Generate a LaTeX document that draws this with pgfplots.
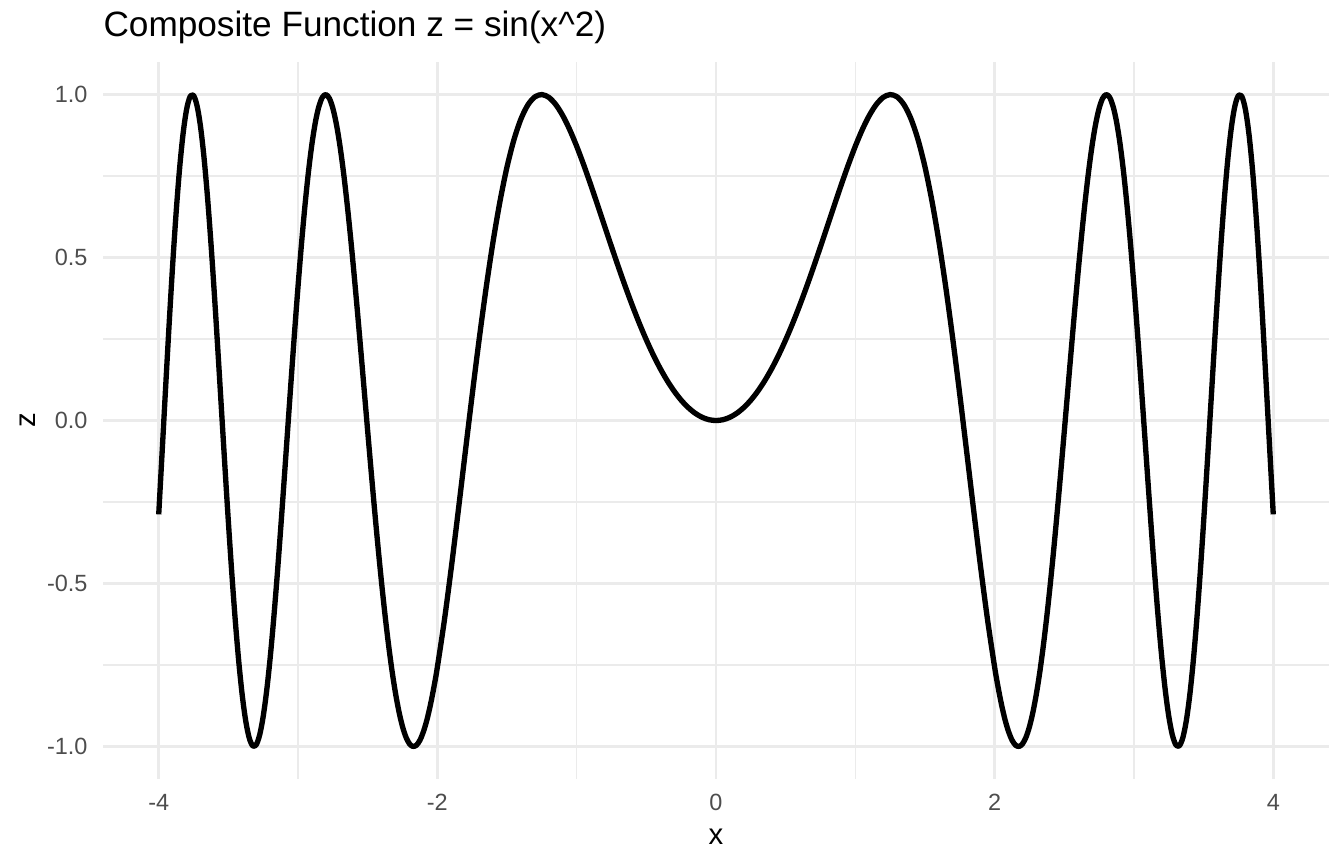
\documentclass[border=0pt]{standalone}
\usepackage{fontspec}
\setmainfont{Liberation Sans}
\usepackage{pgfplots}
\usepackage{pgfplotstable}
\pgfplotsset{compat=1.18}
\definecolor{gridmaj}{HTML}{EBEBEB}
\definecolor{ticktxt}{HTML}{4D4D4D}
% z = sin(x^2)
\pgfplotstableread{
x y
-4.000 -0.2879
-3.975 -0.0925
-3.950 0.1053
-3.925 0.2978
-3.900 0.4776
-3.875 0.6383
-3.850 0.7742
-3.825 0.8807
-3.800 0.9545
-3.775 0.9936
-3.750 0.9972
-3.725 0.9660
-3.700 0.9017
-3.675 0.8071
-3.650 0.6861
-3.625 0.5432
-3.600 0.3835
-3.575 0.2126
-3.550 0.0361
-3.525 -0.1403
-3.500 -0.3111
-3.475 -0.4713
-3.450 -0.6162
-3.425 -0.7418
-3.400 -0.8449
-3.375 -0.9230
-3.350 -0.9744
-3.325 -0.9982
-3.300 -0.9944
-3.275 -0.9638
-3.250 -0.9077
-3.225 -0.8282
-3.200 -0.7279
-3.175 -0.6098
-3.150 -0.4774
-3.125 -0.3343
-3.100 -0.1842
-3.075 -0.0308
-3.050 0.1220
-3.025 0.2707
-3.000 0.4121
-2.975 0.5431
-2.950 0.6611
-2.925 0.7638
-2.900 0.8494
-2.875 0.9165
-2.850 0.9642
-2.825 0.9920
-2.800 0.9999
-2.775 0.9883
-2.750 0.9578
-2.725 0.9097
-2.700 0.8451
-2.675 0.7659
-2.650 0.6738
-2.625 0.5708
-2.600 0.4590
-2.575 0.3405
-2.550 0.2176
-2.525 0.0923
-2.500 -0.0332
-2.475 -0.1569
-2.450 -0.2770
-2.425 -0.3918
-2.400 -0.4996
-2.375 -0.5992
-2.350 -0.6894
-2.325 -0.7692
-2.300 -0.8378
-2.275 -0.8946
-2.250 -0.9393
-2.225 -0.9718
-2.200 -0.9919
-2.175 -0.9998
-2.150 -0.9960
-2.125 -0.9807
-2.100 -0.9546
-2.075 -0.9184
-2.050 -0.8728
-2.025 -0.8186
-2.000 -0.7568
-1.95 -0.6138
-1.90 -0.4515
-1.85 -0.2772
-1.80 -0.0982
-1.75 0.0790
-1.70 0.2490
-1.65 0.4069
-1.60 0.5494
-1.55 0.6736
-1.50 0.7781
-1.45 0.8619
-1.40 0.9252
-1.35 0.9685
-1.30 0.9929
-1.25 1.0000
-1.20 0.9915
-1.15 0.9693
-1.10 0.9356
-1.05 0.8923
-1.00 0.8415
-0.95 0.7849
-0.90 0.7243
-0.85 0.6613
-0.80 0.5972
-0.75 0.5333
-0.70 0.4706
-0.65 0.4100
-0.60 0.3523
-0.55 0.2979
-0.50 0.2474
-0.45 0.2011
-0.40 0.1593
-0.35 0.1222
-0.30 0.0899
-0.25 0.0625
-0.20 0.0400
-0.15 0.0225
-0.10 0.0100
-0.05 0.0025
0.00 0.0000
0.05 0.0025
0.10 0.0100
0.15 0.0225
0.20 0.0400
0.25 0.0625
0.30 0.0899
0.35 0.1222
0.40 0.1593
0.45 0.2011
0.50 0.2474
0.55 0.2979
0.60 0.3523
0.65 0.4100
0.70 0.4706
0.75 0.5333
0.80 0.5972
0.85 0.6613
0.90 0.7243
0.95 0.7849
1.00 0.8415
1.05 0.8923
1.10 0.9356
1.15 0.9693
1.20 0.9915
1.25 1.0000
1.30 0.9929
1.35 0.9685
1.40 0.9252
1.45 0.8619
1.50 0.7781
1.55 0.6736
1.60 0.5494
1.65 0.4069
1.70 0.2490
1.75 0.0790
1.80 -0.0982
1.85 -0.2772
1.90 -0.4515
1.95 -0.6138
2.000 -0.7568
2.025 -0.8186
2.050 -0.8728
2.075 -0.9184
2.100 -0.9546
2.125 -0.9807
2.150 -0.9960
2.175 -0.9998
2.200 -0.9919
2.225 -0.9718
2.250 -0.9393
2.275 -0.8946
2.300 -0.8378
2.325 -0.7692
2.350 -0.6894
2.375 -0.5992
2.400 -0.4996
2.425 -0.3918
2.450 -0.2770
2.475 -0.1569
2.500 -0.0332
2.525 0.0923
2.550 0.2176
2.575 0.3405
2.600 0.4590
2.625 0.5708
2.650 0.6738
2.675 0.7659
2.700 0.8451
2.725 0.9097
2.750 0.9578
2.775 0.9883
2.800 0.9999
2.825 0.9920
2.850 0.9642
2.875 0.9165
2.900 0.8494
2.925 0.7638
2.950 0.6611
2.975 0.5431
3.000 0.4121
3.025 0.2707
3.050 0.1220
3.075 -0.0308
3.100 -0.1842
3.125 -0.3343
3.150 -0.4774
3.175 -0.6098
3.200 -0.7279
3.225 -0.8282
3.250 -0.9077
3.275 -0.9638
3.300 -0.9944
3.325 -0.9982
3.350 -0.9744
3.375 -0.9230
3.400 -0.8449
3.425 -0.7418
3.450 -0.6162
3.475 -0.4713
3.500 -0.3111
3.525 -0.1403
3.550 0.0361
3.575 0.2126
3.600 0.3835
3.625 0.5432
3.650 0.6861
3.675 0.8071
3.700 0.9017
3.725 0.9660
3.750 0.9972
3.775 0.9936
3.800 0.9545
3.825 0.8807
3.850 0.7742
3.875 0.6383
3.900 0.4776
3.925 0.2978
3.950 0.1053
3.975 -0.0925
4.000 -0.2879
}\curve
\begin{document}
\begin{tikzpicture}
\begin{axis}[
  scale only axis, width=459.75pt, height=268.9pt,
  xmin=-4.4, xmax=4.4, ymin=-1.1, ymax=1.1,
  axis line style={draw=none}, major tick style={draw=none}, minor tick style={draw=none},
  xtick={-4,-2,0,2,4}, xticklabels={-4,-2,0,2,4},
  ytick={-1,-0.5,0,0.5,1}, yticklabels={-1.0,-0.5,0.0,0.5,1.0},
  minor x tick num=1, minor y tick num=1,
  grid=both,
  major grid style={color=gridmaj, line width=1.07pt},
  minor grid style={color=gridmaj, line width=0.53pt},
  xticklabel style={font=\fontsize{8.8}{10}\selectfont, text=ticktxt, anchor=north, inner sep=0pt, yshift=-5.6pt},
  yticklabel style={font=\fontsize{8.8}{10}\selectfont, text=ticktxt, anchor=east, inner sep=0pt, xshift=-5.6pt},
  xlabel={x},
  xlabel style={font=\fontsize{11}{13}\selectfont, at={(axis description cs:0.5,0)}, anchor=base, inner sep=0pt, yshift=-24.4pt},
]
\addplot[black, line width=2pt, smooth, line join=round] table[x=x, y=y] {\curve};
\end{axis}
\node[anchor=base west, inner sep=0pt, font=\fontsize{13.2}{15}\selectfont] at ([yshift=9.4pt]current axis.north west) {Composite Function z = sin(x\textasciicircum 2)};
\node[rotate=90, anchor=base, inner sep=0pt, font=\fontsize{11}{13}\selectfont] at ([xshift=-25.5pt]current axis.west) {z};
\pgfresetboundingbox
\path[use as bounding box] ([shift={(-38.625pt,-31.875pt)}]current axis.south west) rectangle ([shift={(5.625pt,23.25pt)}]current axis.north east);
\end{tikzpicture}
\end{document}
